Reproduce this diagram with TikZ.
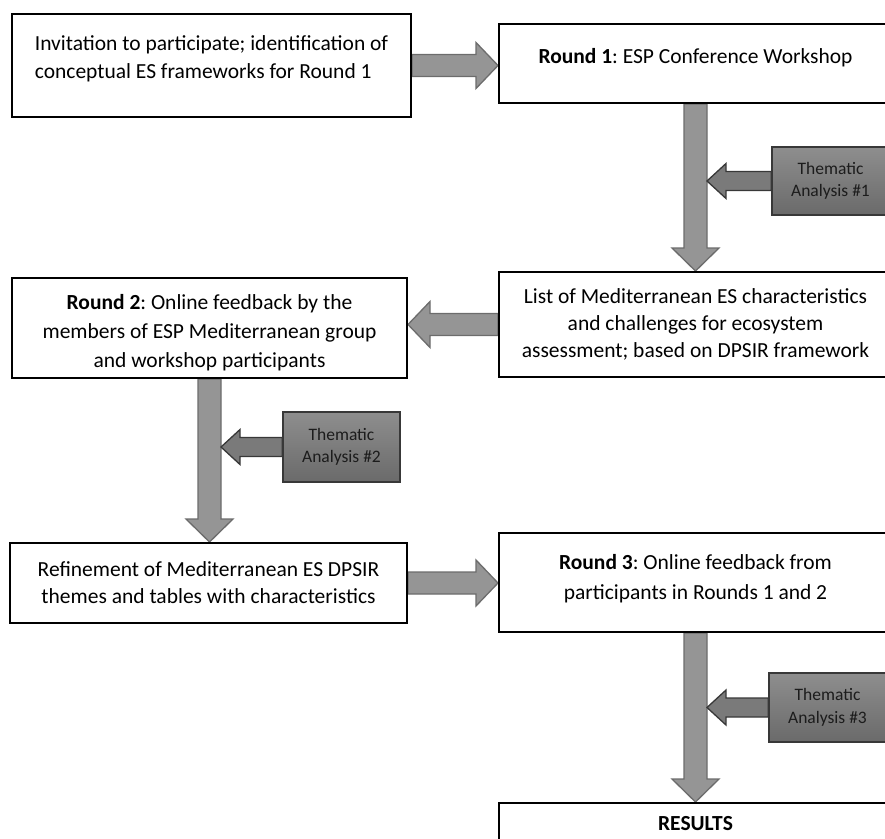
\documentclass[tikz,border=0pt]{standalone}
\usepackage{fontspec}
\setmainfont{Carlito}
\frenchspacing
\usetikzlibrary{calc,backgrounds}
\definecolor{arrfill}{HTML}{959595}
\definecolor{arrline}{HTML}{6C6C6C}
\definecolor{tatop}{HTML}{8E8E8E}
\definecolor{tabot}{HTML}{6A6A6A}
\definecolor{taline}{HTML}{383838}
\definecolor{taarrfill}{HTML}{7A7A7A}
\definecolor{tatext}{HTML}{1C1C1C}
\tikzset{
  box/.style={draw=black, line width=2pt, fill=white, inner sep=0pt, align=center,
    font=\fontsize{21.5}{27}\selectfont},
  tabox/.style={draw=taline, line width=1.3pt, top color=tatop, bottom color=tabot,
    inner sep=0pt, align=center, text=tatext, minimum width=117pt,
    font=\fontsize{17.5}{22.5}\selectfont},
  bigarr/.style={fill=arrfill, draw=arrline, line width=1.3pt, line join=miter},
  taarr/.style={fill=taarrfill, draw=taline, line width=1.3pt, line join=miter},
}
% right-pointing block arrow from #1.east to #2.west
\newcommand\myRarrow[2]{\draw[bigarr] let \p1=(#1.east), \p2=(#2.west) in
  (\x1,{\y1+11pt}) -- ({\x2-22pt},{\y1+11pt}) -- ({\x2-22pt},{\y1+23pt}) -- (\x2,\y1)
  -- ({\x2-22pt},{\y1-23pt}) -- ({\x2-22pt},{\y1-11pt}) -- (\x1,{\y1-11pt}) -- cycle;}
% left-pointing block arrow from #1.west to #2.east
\newcommand\myLarrow[2]{\draw[bigarr] let \p1=(#1.west), \p2=(#2.east) in
  (\x1,{\y1+11pt}) -- ({\x2+22pt},{\y1+11pt}) -- ({\x2+22pt},{\y1+23pt}) -- (\x2,\y1)
  -- ({\x2+22pt},{\y1-23pt}) -- ({\x2+22pt},{\y1-11pt}) -- (\x1,{\y1-11pt}) -- cycle;}
% down-pointing block arrow from #1.south to #2.north
\newcommand\myVarrow[2]{\draw[bigarr] let \p1=(#1.south), \p2=(#2.north) in
  ({\x1-11.5pt},\y1) -- ({\x1-11.5pt},{\y2+23pt}) -- ({\x1-23.5pt},{\y2+23pt}) -- (\x1,\y2)
  -- ({\x1+23.5pt},{\y2+23pt}) -- ({\x1+11.5pt},{\y2+23pt}) -- ({\x1+11.5pt},\y1) -- cycle;}
% left-pointing arrow from thematic box #1 to the shaft below node #2
\newcommand\myTarrow[2]{\draw[taarr] let \p1=(#1.west), \p2=(#2.south) in
  (\x1,{\y1+9.5pt}) -- ({\x2+30.5pt},{\y1+9.5pt}) -- ({\x2+30.5pt},{\y1+17.5pt}) -- ({\x2+11.5pt},\y1)
  -- ({\x2+30.5pt},{\y1-17.5pt}) -- ({\x2+30.5pt},{\y1-9.5pt}) -- (\x1,{\y1-9.5pt}) -- cycle;}
\begin{document}
\begin{tikzpicture}[x=1pt,y=-1pt]
\useasboundingbox (0,0) rectangle (885,838);
\clip (0,0) rectangle (885,838);
% boxes
\node[box, align=left, minimum width=399pt, minimum height=103pt, text depth=17pt, font=\fontsize{21.5}{28.5}\selectfont] (A) at (211.5,65.5)
  {Invitation to participate; identification of\\conceptual ES frameworks for Round 1};
\node[box, minimum width=393pt, minimum height=79pt, text depth=15pt] (B) at (695.5,63.5)
  {\textbf{Round 1}: ESP Conference Workshop};
\node[box, minimum width=393pt, minimum height=105pt] (C) at (695.5,324.5)
  {List of Mediterranean ES characteristics\\and challenges for ecosystem\\assessment; based on DPSIR framework};
\node[box, minimum width=395pt, minimum height=100pt, font=\fontsize{21.5}{29}\selectfont] (D) at (209.5,328)
  {\rule{0pt}{25pt}\textbf{Round 2}: Online feedback by the\\members of ESP Mediterranean group\\and workshop participants};
\node[box, minimum width=397pt, minimum height=80pt] (E) at (208.5,583)
  {Refinement of Mediterranean ES DPSIR\\themes and tables with characteristics};
\node[box, minimum width=393pt, minimum height=99pt, text depth=12pt, font=\fontsize{21.5}{30}\selectfont] (F) at (695.5,582.5)
  {\textbf{Round 3}: Online feedback from\\participants in Rounds 1 and 2};
\node[box, minimum width=393pt, minimum height=42pt, anchor=north] (G) at (695.5,802)
  {\textbf{RESULTS}};
% thematic analysis boxes
\node[tabox, minimum height=68pt] (T1) at (830.5,181) {Thematic\\Analysis \#1};
\node[tabox, minimum height=70pt] (T2) at (341.5,447) {Thematic\\Analysis \#2};
\node[tabox, minimum height=69pt] (T3) at (827.5,707.5) {Thematic\\Analysis \#3};
% arrows
\begin{pgfonlayer}{background}
\myRarrow{A}{B}
\myVarrow{B}{C}
\myLarrow{C}{D}
\myVarrow{D}{E}
\myRarrow{E}{F}
\myVarrow{F}{G}
\myTarrow{T1}{B}
\myTarrow{T2}{D}
\myTarrow{T3}{F}
\end{pgfonlayer}
\end{tikzpicture}
\end{document}
